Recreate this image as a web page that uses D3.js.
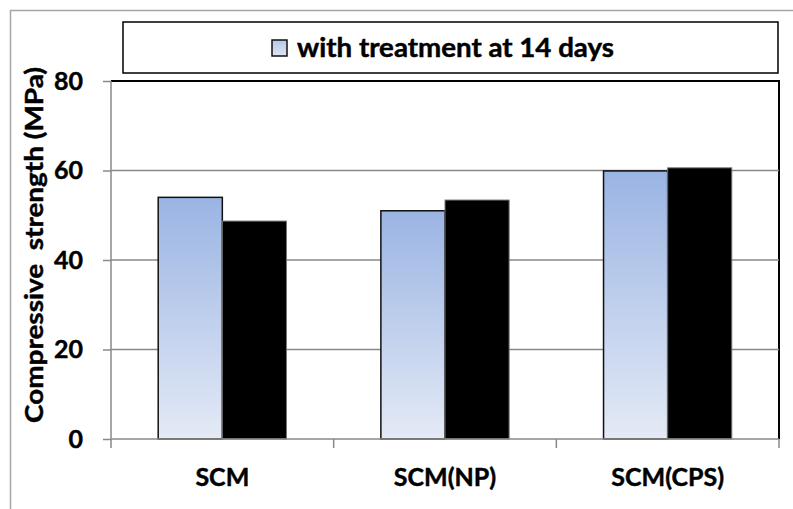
<!DOCTYPE html>
<html><head><meta charset="utf-8">
<script src="https://cdn.jsdelivr.net/npm/d3@7"></script>
<style>body{margin:0;background:#fff;}svg{display:block;}text{font-family:Lato,"Open Sans",sans-serif;font-weight:bold;stroke:#000;stroke-width:0.45px;}</style>
</head><body>
<svg id="c" width="793" height="509"></svg>
<script>
const categories = ["SCM", "SCM(NP)", "SCM(CPS)"];
const series1 = [54.0, 51.0, 59.9];   // with treatment at 14 days
const series2 = [48.7, 53.4, 60.6];   // second series (black)
const yTicks = [0, 20, 40, 60, 80];
const legendLabel = "with treatment at 14 days";
const yTitle = "Compressive  strength (MPa)";

const svg = d3.select("#c");
const m = {l:111, t:81, r:779, b:439};

const defs = svg.append("defs");
const g = defs.append("linearGradient").attr("id","blueGrad").attr("x1",0).attr("y1",0).attr("x2",0).attr("y2",1);
g.append("stop").attr("offset","0%").attr("stop-color","#9ab4e3");
g.append("stop").attr("offset","100%").attr("stop-color","#e4eaf6");
const g2 = defs.append("linearGradient").attr("id","blueGradL").attr("x1",0).attr("y1",0).attr("x2",0).attr("y2",1);
g2.append("stop").attr("offset","0%").attr("stop-color","#b5c7ea");
g2.append("stop").attr("offset","100%").attr("stop-color","#dfe6f5");

// outer frame
svg.append("path").attr("d","M10.5,509 V10.5 H793").attr("fill","none").attr("stroke","#a6a6a6").attr("stroke-width",1.5);

const x = d3.scaleBand().domain(categories).range([m.l, m.r]).padding(0);
const y = d3.scaleLinear().domain([0,80]).range([m.b, m.t]);

// plot area border (top & right black)
svg.append("path").attr("d",`M${m.l},${m.t} H${m.r} V${m.b}`).attr("fill","none").attr("stroke","#000").attr("stroke-width",2);

// gridlines
svg.append("g").selectAll("line").data(yTicks.filter(d=>d>0 && d<80)).join("line")
  .attr("x1",m.l).attr("x2",m.r).attr("y1",d=>y(d)).attr("y2",d=>y(d))
  .attr("stroke","#888").attr("stroke-width",1.5);

const bw = x.bandwidth()*0.288;
const groups = svg.append("g").selectAll("g").data(categories).join("g");
groups.append("rect")
  .attr("x",d=>x(d)+x.bandwidth()/2-bw).attr("width",bw)
  .attr("y",(d,i)=>y(series1[i])).attr("height",(d,i)=>y(0)-y(series1[i]))
  .attr("fill","url(#blueGrad)").attr("stroke","#111").attr("stroke-width",1.5);
groups.append("rect")
  .attr("x",d=>x(d)+x.bandwidth()/2).attr("width",bw)
  .attr("y",(d,i)=>y(series2[i])).attr("height",(d,i)=>y(0)-y(series2[i]))
  .attr("fill","#000").attr("stroke","#777").attr("stroke-width",1);

// y axis
const ya = svg.append("g").attr("transform",`translate(${m.l},0)`)
  .call(d3.axisLeft(y).tickValues(yTicks).tickSize(8).tickPadding(20).tickFormat(d3.format("d")));
ya.select(".domain").attr("stroke","#888").attr("stroke-width",1.5).attr("d",`M0,${m.t}V${m.b}`);
ya.selectAll(".tick line").attr("stroke","#888").attr("stroke-width",1.5);
ya.selectAll(".tick text").attr("font-size",25).attr("fill","#000").attr("font-family","Lato,sans-serif").attr("font-weight","bold");

// x axis
const xa = svg.append("g").attr("transform",`translate(0,${m.b})`)
  .call(d3.axisBottom(x).tickSize(0).tickPadding(29));
xa.select(".domain").attr("stroke","#888").attr("stroke-width",1.5).attr("d",`M${m.l},0H${m.r}`);
xa.selectAll(".tick text").attr("font-size",25).attr("fill","#000").attr("font-family","Lato,sans-serif").attr("font-weight","bold");
const bounds = categories.map(c=>x(c)).concat([x(categories[categories.length-1])+x.bandwidth()]);
svg.append("g").selectAll("line").data(bounds).join("line")
  .attr("x1",d=>d).attr("x2",d=>d).attr("y1",m.b).attr("y2",m.b+9)
  .attr("stroke","#888").attr("stroke-width",1.5);

// y title
svg.append("text").attr("transform",`translate(43,245) rotate(-90)`)
  .attr("text-anchor","middle").attr("font-size",25).attr("fill","#000")
  .attr("textLength",356).attr("lengthAdjust","spacingAndGlyphs")
  .style("white-space","pre").text(yTitle);

// legend
svg.append("rect").attr("x",123).attr("y",22).attr("width",655).attr("height",51)
  .attr("fill","#fff").attr("stroke","#000").attr("stroke-width",1.5);
svg.append("rect").attr("x",272).attr("y",40).attr("width",15).attr("height",16)
  .attr("fill","url(#blueGradL)").attr("stroke","#111").attr("stroke-width",1.5);
svg.append("text").attr("x",297).attr("y",57).attr("font-size",26).attr("fill","#000")
  .attr("textLength",317).attr("lengthAdjust","spacingAndGlyphs").text(legendLabel);
</script>
</body></html>
